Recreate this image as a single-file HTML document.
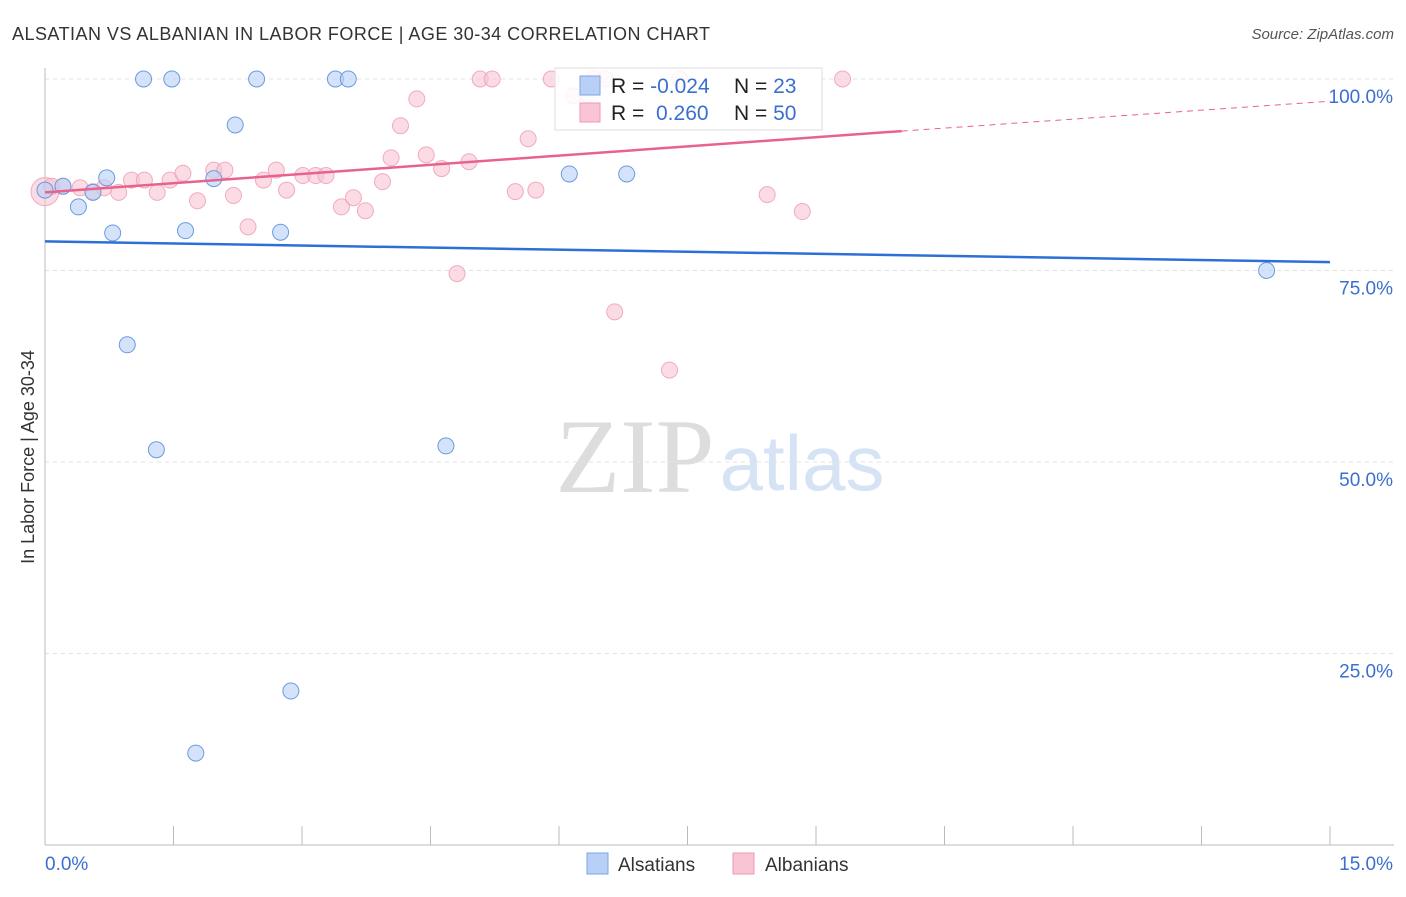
<!DOCTYPE html>
<html><head><meta charset="utf-8"><style>
body{margin:0;background:#fff;font-family:"Liberation Sans",sans-serif;}
</style></head><body>
<svg id="c" width="1406" height="892" xmlns="http://www.w3.org/2000/svg">
<text x="12" y="40" font-size="18" fill="#333" textLength="698">ALSATIAN VS ALBANIAN IN LABOR FORCE | AGE 30-34 CORRELATION CHART</text>
<text x="1394" y="39" font-size="15" fill="#555" text-anchor="end" font-style="italic">Source: ZipAtlas.com</text>
<text x="635" y="492" font-size="106" fill="#ddd" text-anchor="middle" font-family="Liberation Serif,serif">ZIP</text>
<text x="802" y="490" font-size="78" fill="#d5e3f5" text-anchor="middle">atlas</text>
<text transform="translate(34,457) rotate(-90)" font-size="18" fill="#333" text-anchor="middle">In Labor Force | Age 30-34</text>
<g id="grid"></g><g id="marks"></g>
<g>
<rect x="555" y="68" width="267" height="62" fill="#fff" fill-opacity="0.85" stroke="#ddd"/>
<rect x="580" y="76" width="20" height="19" fill="#b8d0f5" stroke="#7aa6e8"/>
<rect x="580" y="103" width="20" height="19" fill="#f9c4d4" stroke="#ee9ab3"/>
<text x="611" y="93" font-size="21" fill="#222">R = <tspan fill="#3a6fd0">-0.024</tspan></text>
<text x="734" y="93" font-size="21" fill="#222">N = <tspan fill="#3a6fd0"> 23</tspan></text>
<text x="611" y="120" font-size="21" fill="#222">R = <tspan fill="#3a6fd0" x="656">0.260</tspan></text>
<text x="734" y="120" font-size="21" fill="#222">N = <tspan fill="#3a6fd0">50</tspan></text>
</g>
<g>
<rect x="587" y="853" width="21" height="21" fill="#b8d0f5" stroke="#7aa6e8"/>
<text x="618" y="871" font-size="19" fill="#333">Alsatians</text>
<rect x="733" y="853" width="21" height="21" fill="#f9c4d4" stroke="#ee9ab3"/>
<text x="765" y="871" font-size="19" fill="#333">Albanians</text>
</g>
</svg>
<script>
const yTicks=[25,50,75,100];
const yTickLabels=["25.0%","50.0%","75.0%","100.0%"];
const xTicks=[0,1.5,3,4.5,6,7.5,9,10.5,12,13.5,15];
const alsX=[0,0.21,0.39,0.56,0.72,0.79,0.96,1.15,1.30,1.48,1.64,1.76,1.97,2.22,2.47,2.75,2.87,3.39,3.54,4.68,6.12,6.79,14.26];
const alsY=[85.5,86,83.3,85.2,87.1,79.9,65.3,100,51.6,100,80.2,12,87,94,100,80,20.1,100,100,52.1,87.6,87.6,75];
const albX=[0,0.08,0.21,0.41,0.56,0.69,0.86,1.01,1.16,1.31,1.46,1.61,1.78,1.97,2.10,2.20,2.37,2.55,2.70,2.82,3.01,3.16,3.28,3.46,3.60,3.74,3.94,4.04,4.15,4.34,4.45,4.63,4.81,4.95,5.08,5.22,5.49,5.64,5.73,5.91,6.17,6.41,6.54,6.65,7.29,7.41,8.43,8.84,9.31,6.33];
const albY=[85.3,86,86,85.8,85.3,85.8,85.2,86.8,86.8,85.2,86.8,87.7,84.1,88.1,88.1,84.8,80.7,86.8,88.1,85.5,87.4,87.4,87.4,83.3,84.5,82.8,86.6,89.7,93.9,97.4,90.1,88.3,74.6,89.2,100,100,85.3,92.2,85.5,100,97.8,100,100,69.6,62,100,84.9,82.7,100,98];
const X=v=>45+v/15*1285, Y=v=>845-v/100*766;
const NS="http://www.w3.org/2000/svg";
const mk=(t,a,p)=>{const e=document.createElementNS(NS,t);for(const k in a)e.setAttribute(k,a[k]);p.appendChild(e);return e;};
const g=document.getElementById('grid'),m=document.getElementById('marks');
yTicks.forEach((t,i)=>{
 const l=mk('line',{x1:45,x2:1394,y1:Y(t),y2:Y(t),stroke:'#e3e3e3','stroke-dasharray':'4,4'},g);
 
 
 const tx=mk('text',{x:1393,y:Y(t)+24,'font-size':19,fill:'#3a6fd0','text-anchor':'end'},g);
 tx.textContent=yTickLabels[i];
 
 
});
mk('line',{x1:45,x2:45,y1:68,y2:845,stroke:'#bbb'},g);
mk('line',{x1:45,x2:1394,y1:845,y2:845,stroke:'#bbb'},g);
xTicks.forEach(t=>{const l=mk('line',{x1:X(t),x2:X(t),y1:826,y2:845,stroke:'#bbb'},g);
 
 });
let t0=mk('text',{x:45,y:870,'font-size':19,fill:'#3a6fd0'},g);t0.textContent='0.0%';
let t1=mk('text',{x:1393,y:870,'font-size':19,fill:'#3a6fd0','text-anchor':'end'},g);t1.textContent='15.0%';
albX.forEach((x,i)=>{const c=mk('circle',{cx:X(x),cy:Y(albY[i]),r:i==0?14:8,fill:'#f9c4d4','fill-opacity':0.6,stroke:'#ee9ab3','stroke-opacity':0.8},m);
 
 });
alsX.forEach((x,i)=>{const c=mk('circle',{cx:X(x),cy:Y(alsY[i]),r:8,fill:'#b8d0f5','fill-opacity':0.6,stroke:'#6a9be0'},m);
 
 });
let b=mk('line',{x1:X(0),y1:Y(78.8),x2:X(15),y2:Y(76.1),stroke:'#2e6fd6','stroke-width':2.5},m);

let p=mk('line',{x1:X(0),y1:Y(85.2),x2:X(10),y2:Y(93.2),stroke:'#e8628e','stroke-width':2.5},m);

let pd=mk('line',{x1:X(10),y1:Y(93.2),x2:X(15),y2:Y(97.1),stroke:'#e8628e','stroke-width':1,'stroke-dasharray':'6,5'},m);

</script>
</body></html>
